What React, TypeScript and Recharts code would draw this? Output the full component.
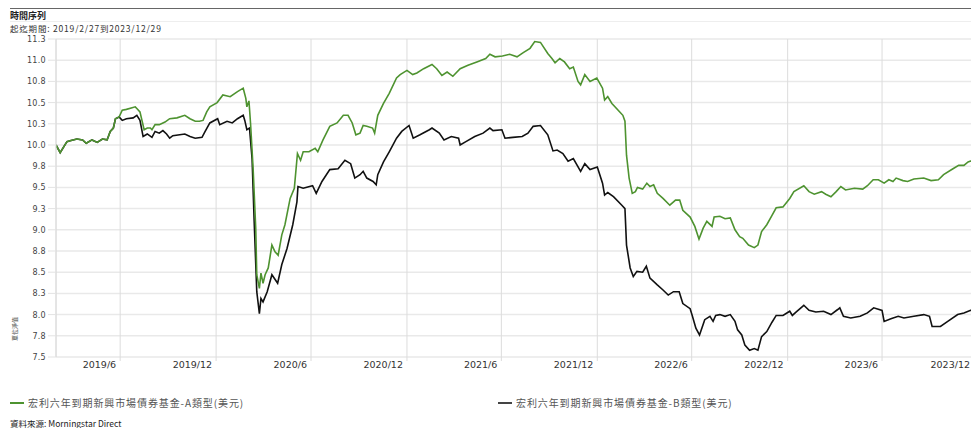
import React from "react";
import { CartesianGrid, Line, LineChart, XAxis, YAxis } from "recharts";

// 宏利六年到期新興市場債券基金 A / B 類型 (美元) 淨值, 2019/2/27 ~ 2023/12/29
const fundADates = [
  "2019-02-27", "2019-03-07", "2019-03-20", "2019-03-26", "2019-04-08", "2019-04-19", "2019-04-26", "2019-05-07",
  "2019-05-17", "2019-05-27", "2019-06-05", "2019-06-11", "2019-06-17", "2019-06-21", "2019-06-28", "2019-07-04",
  "2019-07-12", "2019-07-23", "2019-07-29", "2019-08-01", "2019-08-07", "2019-08-12", "2019-08-15", "2019-08-21",
  "2019-08-27", "2019-08-30", "2019-09-05", "2019-09-13", "2019-09-24", "2019-10-03", "2019-10-17", "2019-11-01",
  "2019-11-11", "2019-11-21", "2019-11-29", "2019-12-06", "2019-12-13", "2019-12-19", "2020-01-02", "2020-01-13",
  "2020-01-27", "2020-02-10", "2020-02-21", "2020-02-26", "2020-02-28", "2020-03-03", "2020-03-06", "2020-03-11",
  "2020-03-16", "2020-03-18", "2020-03-23", "2020-03-26", "2020-03-30", "2020-04-03", "2020-04-09", "2020-04-16",
  "2020-04-22", "2020-04-28", "2020-05-05", "2020-05-11", "2020-05-21", "2020-05-29", "2020-06-04", "2020-06-10",
  "2020-06-15", "2020-06-26", "2020-07-08", "2020-07-13", "2020-07-23", "2020-08-05", "2020-08-19", "2020-08-31",
  "2020-09-09", "2020-09-17", "2020-09-24", "2020-10-02", "2020-10-08", "2020-10-15", "2020-10-26", "2020-10-30",
  "2020-11-05", "2020-11-16", "2020-11-27", "2020-12-11", "2020-12-18", "2020-12-31", "2021-01-11", "2021-01-19",
  "2021-02-01", "2021-02-17", "2021-02-26", "2021-03-08", "2021-03-18", "2021-03-29", "2021-04-12", "2021-04-27",
  "2021-05-14", "2021-05-31", "2021-06-08", "2021-06-18", "2021-07-02", "2021-07-16", "2021-07-30", "2021-08-11",
  "2021-08-24", "2021-09-02", "2021-09-13", "2021-09-27", "2021-10-05", "2021-10-11", "2021-10-20", "2021-10-29",
  "2021-11-08", "2021-11-15", "2021-11-24", "2021-11-29", "2021-12-07", "2021-12-17", "2021-12-30", "2022-01-10",
  "2022-01-14", "2022-01-20", "2022-01-28", "2022-02-09", "2022-02-18", "2022-02-22", "2022-02-25", "2022-03-02",
  "2022-03-08", "2022-03-14", "2022-03-18", "2022-03-28", "2022-04-05", "2022-04-11", "2022-04-18", "2022-04-25",
  "2022-05-06", "2022-05-19", "2022-05-30", "2022-06-07", "2022-06-13", "2022-06-27", "2022-07-06", "2022-07-14",
  "2022-07-22", "2022-07-29", "2022-08-08", "2022-08-12", "2022-08-23", "2022-09-02", "2022-09-12", "2022-09-21",
  "2022-09-30", "2022-10-06", "2022-10-17", "2022-10-28", "2022-11-04", "2022-11-11", "2022-11-21", "2022-12-01",
  "2022-12-09", "2022-12-22", "2023-01-04", "2023-01-12", "2023-01-31", "2023-02-10", "2023-02-20", "2023-03-06",
  "2023-03-14", "2023-03-24", "2023-04-03", "2023-04-12", "2023-04-21", "2023-05-08", "2023-05-24", "2023-06-02",
  "2023-06-13", "2023-06-23", "2023-07-04", "2023-07-13", "2023-07-21", "2023-07-27", "2023-08-09", "2023-08-18",
  "2023-08-30", "2023-09-18", "2023-10-02", "2023-10-16", "2023-10-26", "2023-11-13", "2023-11-24", "2023-12-04",
  "2023-12-12", "2023-12-17", "2023-12-29",
];
const fundAValues = [
  10.0, 9.91, 10.04, 10.05, 10.07, 10.06, 10.02, 10.06,
  10.03, 10.07, 10.06, 10.16, 10.2, 10.31, 10.33, 10.41,
  10.42, 10.44, 10.45, 10.43, 10.39, 10.26, 10.18, 10.2,
  10.2, 10.18, 10.24, 10.24, 10.27, 10.31, 10.32, 10.35,
  10.31, 10.28, 10.28, 10.29, 10.39, 10.45, 10.5, 10.59,
  10.57, 10.63, 10.67, 10.55, 10.45, 10.52, 10.26, 9.72,
  9.02, 8.47, 8.31, 8.49, 8.37, 8.47, 8.55, 8.82,
  8.74, 8.7, 8.94, 9.06, 9.37, 9.49, 9.9, 9.82,
  9.92, 9.92, 9.96, 9.92, 10.06, 10.22, 10.26, 10.35,
  10.35, 10.26, 10.12, 10.14, 10.23, 10.22, 10.2, 10.14,
  10.35, 10.49, 10.61, 10.79, 10.83, 10.88, 10.83, 10.85,
  10.9, 10.95, 10.9, 10.82, 10.86, 10.81, 10.9, 10.94,
  10.98, 11.02, 11.07, 11.04, 11.05, 11.07, 11.04, 11.09,
  11.14, 11.22, 11.21, 11.08, 11.02, 10.97, 11.02, 10.98,
  10.9, 10.92, 10.75, 10.71, 10.83, 10.75, 10.79, 10.67,
  10.53, 10.57, 10.49, 10.41, 10.35, 10.28, 9.88, 9.61,
  9.43, 9.45, 9.5, 9.48, 9.55, 9.51, 9.53, 9.43,
  9.37, 9.29, 9.35, 9.35, 9.23, 9.15, 9.04, 8.89,
  9.02, 9.1, 9.04, 9.15, 9.16, 9.13, 9.14, 9.0,
  8.92, 8.9, 8.82, 8.79, 8.82, 8.98, 9.06, 9.17,
  9.26, 9.27, 9.37, 9.45, 9.52, 9.45, 9.42, 9.45,
  9.42, 9.39, 9.45, 9.51, 9.47, 9.49, 9.48, 9.52,
  9.59, 9.59, 9.55, 9.59, 9.57, 9.61, 9.58, 9.57,
  9.6, 9.61, 9.58, 9.59, 9.65, 9.72, 9.76, 9.76,
  9.8, 9.81, 9.83,
];

const fundBDates = [
  "2019-02-27", "2019-03-07", "2019-03-20", "2019-03-26", "2019-04-08", "2019-04-19", "2019-04-26", "2019-05-07",
  "2019-05-17", "2019-05-27", "2019-06-05", "2019-06-11", "2019-06-17", "2019-06-21", "2019-06-28", "2019-07-04",
  "2019-07-12", "2019-07-25", "2019-08-01", "2019-08-07", "2019-08-13", "2019-08-21", "2019-08-30", "2019-09-05",
  "2019-09-13", "2019-09-20", "2019-09-27", "2019-10-03", "2019-10-09", "2019-11-01", "2019-11-11", "2019-11-21",
  "2019-12-04", "2019-12-10", "2019-12-19", "2020-01-03", "2020-01-07", "2020-01-21", "2020-01-31", "2020-02-10",
  "2020-02-21", "2020-02-24", "2020-02-28", "2020-03-04", "2020-03-09", "2020-03-13", "2020-03-18", "2020-03-23",
  "2020-03-26", "2020-03-30", "2020-04-07", "2020-04-16", "2020-04-27", "2020-05-05", "2020-05-15", "2020-05-26",
  "2020-06-03", "2020-06-05", "2020-06-15", "2020-07-03", "2020-07-10", "2020-07-21", "2020-08-05", "2020-08-21",
  "2020-09-03", "2020-09-14", "2020-09-22", "2020-10-02", "2020-10-08", "2020-10-15", "2020-10-27", "2020-11-02",
  "2020-11-05", "2020-11-16", "2020-11-27", "2020-12-11", "2020-12-21", "2021-01-04", "2021-01-12", "2021-01-25",
  "2021-02-12", "2021-02-17", "2021-03-03", "2021-03-12", "2021-03-26", "2021-04-09", "2021-04-12", "2021-04-23",
  "2021-05-10", "2021-05-26", "2021-06-08", "2021-06-14", "2021-07-01", "2021-07-07", "2021-07-22", "2021-08-09",
  "2021-08-20", "2021-08-30", "2021-09-13", "2021-09-27", "2021-10-07", "2021-10-15", "2021-10-26", "2021-11-05",
  "2021-11-15", "2021-11-29", "2021-12-07", "2021-12-17", "2021-12-31", "2022-01-10", "2022-01-14", "2022-01-20",
  "2022-01-31", "2022-02-16", "2022-02-22", "2022-02-25", "2022-03-04", "2022-03-10", "2022-03-17", "2022-03-28",
  "2022-04-04", "2022-04-11", "2022-04-25", "2022-05-06", "2022-05-16", "2022-05-26", "2022-06-06", "2022-06-13",
  "2022-06-27", "2022-07-01", "2022-07-08", "2022-07-15", "2022-07-25", "2022-08-04", "2022-08-10", "2022-08-15",
  "2022-08-23", "2022-09-02", "2022-09-12", "2022-09-21", "2022-09-26", "2022-10-04", "2022-10-10", "2022-10-19",
  "2022-10-28", "2022-11-04", "2022-11-11", "2022-11-21", "2022-12-01", "2022-12-09", "2022-12-22", "2023-01-04",
  "2023-01-09", "2023-01-16", "2023-01-31", "2023-02-10", "2023-02-23", "2023-03-10", "2023-03-24", "2023-04-06",
  "2023-04-10", "2023-04-17", "2023-05-01", "2023-05-19", "2023-06-02", "2023-06-14", "2023-06-30", "2023-07-04",
  "2023-07-17", "2023-07-31", "2023-08-11", "2023-08-30", "2023-09-18", "2023-09-29", "2023-10-04", "2023-10-20",
  "2023-11-03", "2023-11-22", "2023-12-04", "2023-12-17", "2023-12-29",
];
const fundBValues = [
  10.0, 9.91, 10.04, 10.05, 10.07, 10.06, 10.02, 10.06,
  10.03, 10.07, 10.06, 10.16, 10.2, 10.31, 10.33, 10.29,
  10.31, 10.32, 10.35, 10.29, 10.1, 10.13, 10.09, 10.16,
  10.14, 10.17, 10.13, 10.08, 10.11, 10.13, 10.1, 10.08,
  10.09, 10.16, 10.26, 10.31, 10.24, 10.28, 10.26, 10.31,
  10.35, 10.29, 10.18, 10.2, 9.84, 9.1, 8.27, 8.01,
  8.19, 8.15, 8.27, 8.47, 8.37, 8.59, 8.78, 9.06,
  9.33, 9.51, 9.49, 9.52, 9.43, 9.57, 9.71, 9.72,
  9.82, 9.78, 9.61, 9.65, 9.69, 9.61, 9.57, 9.53,
  9.65, 9.8, 9.92, 10.08, 10.16, 10.23, 10.08, 10.12,
  10.18, 10.2, 10.14, 10.06, 10.1, 10.08, 10.0, 10.04,
  10.1, 10.14, 10.2, 10.17, 10.18, 10.08, 10.09, 10.1,
  10.14, 10.22, 10.23, 10.12, 9.93, 9.94, 9.9, 9.81,
  9.84, 9.69, 9.78, 9.71, 9.74, 9.55, 9.41, 9.44,
  9.39, 9.29, 9.25, 8.82, 8.55, 8.45, 8.51, 8.5,
  8.57, 8.43, 8.35, 8.29, 8.23, 8.27, 8.27, 8.13,
  8.07, 7.99, 7.84, 7.76, 7.94, 7.98, 7.92, 7.99,
  8.0, 7.98, 8.0, 7.92, 7.82, 7.76, 7.64, 7.58,
  7.6, 7.58, 7.74, 7.8, 7.91, 7.99, 7.99, 8.04,
  7.99, 8.03, 8.11, 8.05, 8.03, 8.04, 8.0, 8.06,
  8.08, 7.98, 7.96, 7.98, 8.02, 8.08, 8.05, 7.92,
  7.95, 7.98, 7.96, 7.98, 8.0, 7.98, 7.86, 7.86,
  7.92, 8.0, 8.02, 8.05, 8.06,
];

const xTickDates = [
  "2019-06-30", "2019-12-31", "2020-06-30", "2020-12-31", "2021-06-30",
  "2021-12-31", "2022-06-30", "2022-12-31", "2023-06-30", "2023-12-31",
];
const xTickLabels = [
  "2019/6", "2019/12", "2020/6", "2020/12", "2021/6",
  "2021/12", "2022/6", "2022/12", "2023/6", "2023/12",
];
const yTicks = [7.5, 7.75, 8, 8.25, 8.5, 8.75, 9, 9.25, 9.5, 9.75, 10, 10.25, 10.5, 10.75, 11, 11.25];
const yTickLabels = ["7.5", "7.8", "8.0", "8.3", "8.5", "8.8", "9.0", "9.3", "9.5", "9.8", "10.0", "10.3", "10.5", "10.8", "11.0", "11.3"];

const seriesNames = ["宏利六年到期新興市場債券基金-A類型(美元)", "宏利六年到期新興市場債券基金-B類型(美元)"];
const GREEN = "#4e9330";
const BLACK = "#111111";

const toTime = (s: string) => {
  const [y, m, d] = s.split("-").map(Number);
  return Date.UTC(y, m - 1, d);
};

const rows = new Map<number, { t: number; a?: number; b?: number }>();
fundADates.forEach((d, i) => {
  const t = toTime(d);
  rows.set(t, { ...(rows.get(t) || { t }), a: fundAValues[i] });
});
fundBDates.forEach((d, i) => {
  const t = toTime(d);
  rows.set(t, { ...(rows.get(t) || { t }), b: fundBValues[i] });
});
const chartData = Array.from(rows.values()).sort((p, q) => p.t - q.t);
const xTicks = xTickDates.map(toTime);

const XTick = ({ x, payload }: any) => {
  const i = xTicks.indexOf(payload.value);
  return (
    <text x={Math.min(x - 4, 970)} y={368} textAnchor="end" fontSize={9.5} fill="#333" fontFamily="DejaVu Sans">
      {xTickLabels[i]}
    </text>
  );
};

const YTick = ({ y, payload }: any) => {
  const i = yTicks.indexOf(payload.value);
  return (
    <text x={46} y={y + 3} textAnchor="end" fontSize={8} fill="#444" fontFamily="DejaVu Sans" letterSpacing={0.3}>
      {yTickLabels[i]}
    </text>
  );
};

const cjk = '"Noto Sans CJK TC", "DejaVu Sans", sans-serif';

export default function App() {
  return (
    <div style={{ position: "absolute", left: 0, top: 0, width: 971, height: 428, overflow: "hidden", background: "#fff", fontFamily: cjk }}>
      <div style={{ position: "absolute", left: 10, top: 8, width: 961, height: 1, background: "#666" }} />
      <div style={{ position: "absolute", left: 10, top: 11, fontSize: 9, fontWeight: 700, color: "#222", lineHeight: "10px" }}>時間序列</div>
      <div style={{ position: "absolute", left: 10, top: 21, width: 961, height: 1, background: "#eee" }} />
      <div style={{ position: "absolute", left: 10, top: 23, fontSize: 8.5, color: "#333", letterSpacing: 0.8, lineHeight: "10px" }}>
        起迄期間: 2019/2/27到2023/12/29
      </div>
      <div style={{ position: "absolute", left: 0, top: 0 }}>
        <LineChart width={978} height={428} data={chartData} margin={{ top: 39, right: 0, bottom: 0, left: 0 }}>
          <CartesianGrid horizontal={true} vertical={false} stroke="#e9e9e9" strokeWidth={1.5} />
          <CartesianGrid horizontal={false} vertical={true} stroke="#dcdcdc" strokeWidth={1} />
          <XAxis
            dataKey="t"
            type="number"
            scale="linear"
            domain={[toTime("2019-02-27"), toTime("2023-12-31")]}
            ticks={xTicks}
            interval={0}
            tick={<XTick />}
            tickLine={{ stroke: "#dcdcdc" }}
            tickSize={4}
            axisLine={false}
            height={71}
            allowDataOverflow
          />
          <YAxis
            type="number"
            domain={[7.5, 11.25]}
            ticks={yTicks}
            tick={<YTick />}
            tickLine={{ stroke: "#e3e3e3" }}
            tickSize={8}
            axisLine={{ stroke: "#dcdcdc" }}
            width={56}
            interval={0}
            allowDataOverflow
          />
          <Line dataKey="b" type="linear" stroke={BLACK} strokeWidth={1.6} dot={false} connectNulls isAnimationActive={false} />
          <Line dataKey="a" type="linear" stroke={GREEN} strokeWidth={1.6} dot={false} connectNulls isAnimationActive={false} />
        </LineChart>
      </div>
      <svg style={{ position: "absolute", left: 0, top: 0 }} width={30} height={428}>
        <text x={15} y={329} transform="rotate(-90 15 329)" textAnchor="middle" dominantBaseline="middle" fontSize={6} fill="#444" fontFamily={cjk}>
          單位淨值
        </text>
      </svg>
      <div style={{ position: "absolute", left: 10, top: 397, display: "flex", alignItems: "center", fontSize: 10, color: "#555", letterSpacing: 0.9, lineHeight: "12px" }}>
        <span style={{ display: "inline-block", width: 14, height: 2, background: GREEN, marginRight: 4 }} />
        {seriesNames[0]}
      </div>
      <div style={{ position: "absolute", left: 498, top: 397, display: "flex", alignItems: "center", fontSize: 10, color: "#555", letterSpacing: 0.9, lineHeight: "12px" }}>
        <span style={{ display: "inline-block", width: 14, height: 2, background: "#444", marginRight: 4 }} />
        {seriesNames[1]}
      </div>
      <div style={{ position: "absolute", left: 10, top: 418, fontSize: 8.5, color: "#222", lineHeight: "11px" }}>
        資料來源: Morningstar Direct
      </div>
    </div>
  );
}
